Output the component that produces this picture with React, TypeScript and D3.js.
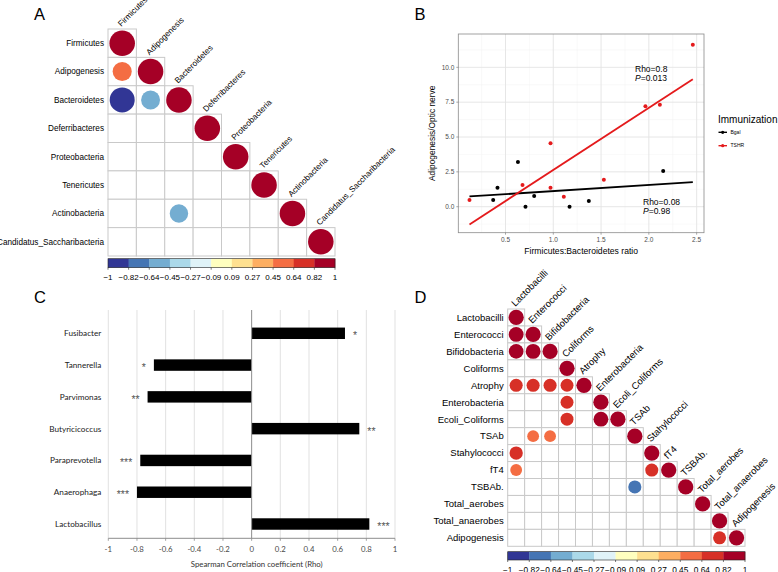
import React from "react";
import * as d3 from "d3";

const W = 778;
const H = 572;

// ---------- shared corrplot palette ----------
const corrColors = ["#313695", "#4575b4", "#74add1", "#abd9e9", "#e0f3f8", "#ffffbf", "#fee090", "#fdae61", "#f46d43", "#d73027", "#a50026"];
const colorbarLabels = ["−1", "−0.82", "−0.64", "−0.45", "−0.27", "−0.09", "0.09", "0.27", "0.45", "0.64", "0.82", "1"];

// ---------- Panel A ----------
const varsA = ["Firmicutes", "Adipogenesis", "Bacteroidetes", "Deferribacteres", "Proteobacteria", "Tenericutes", "Actinobacteria", "Candidatus_Saccharibacteria"];
const corrA: [string, string, number][] = [
  ["Adipogenesis", "Firmicutes", 0.56],
  ["Bacteroidetes", "Firmicutes", -0.96],
  ["Bacteroidetes", "Adipogenesis", -0.55],
  ["Actinobacteria", "Bacteroidetes", -0.52],
];

// ---------- Panel B ----------
const bgalX = [0.371, 0.416, 0.63, 0.709, 0.8, 1.17, 1.372, 2.15];
const bgalY = [0.48, 1.36, 3.21, 0.0, 0.77, 0.0, 0.41, 2.56];
const tshrX = [0.123, 0.678, 0.971, 0.971, 1.11, 1.529, 1.964, 2.115, 2.46];
const tshrY = [0.48, 1.56, 4.55, 1.36, 0.72, 1.94, 7.2, 7.32, 11.62];
const xTicksB = [0.5, 1.0, 1.5, 2.0, 2.5];
const yTicksB = [0, 2.5, 5, 7.5, 10];
const xMinorB = [0.25, 0.75, 1.25, 1.75, 2.25];
const yMinorB = [-1.25, 1.25, 3.75, 6.25, 8.75, 11.25];
const groupsB = ["Bgal", "TSHR"];
const groupColorsB = ["#000000", "#e41a1c"];

// ---------- Panel C ----------
const generaC = ["Fusibacter", "Tannerella", "Parvimonas", "Butyricicoccus", "Paraprevotella", "Anaerophaga", "Lactobacillus"];
const rhoC = [0.651, -0.682, -0.726, 0.751, -0.777, -0.8, 0.821];
const starsC = ["*", "*", "**", "**", "***", "***", "***"];
const xTicksC = [-1, -0.8, -0.6, -0.4, -0.2, 0, 0.2, 0.4, 0.6, 0.8, 1];

// ---------- Panel D ----------
const varsD = ["Lactobacilli", "Enterococci", "Bifidobacteria", "Coliforms", "Atrophy", "Enterobacteria", "Ecoli_Coliforms", "TSAb", "Stahylococci", "fT4", "TSBAb.", "Total_aerobes", "Total_anaerobes", "Adipogenesis"];
const corrD: [string, string, number][] = [
  ["Enterococci", "Lactobacilli", 0.95],
  ["Bifidobacteria", "Lactobacilli", 0.93],
  ["Bifidobacteria", "Enterococci", 0.95],
  ["Atrophy", "Lactobacilli", 0.74],
  ["Atrophy", "Enterococci", 0.74],
  ["Atrophy", "Bifidobacteria", 0.74],
  ["Atrophy", "Coliforms", 0.72],
  ["Enterobacteria", "Coliforms", 0.72],
  ["Ecoli_Coliforms", "Coliforms", 0.72],
  ["Ecoli_Coliforms", "Enterobacteria", 0.95],
  ["TSAb", "Enterococci", 0.6],
  ["TSAb", "Bifidobacteria", 0.6],
  ["Stahylococci", "Lactobacilli", 0.76],
  ["fT4", "Lactobacilli", 0.6],
  ["fT4", "Stahylococci", 0.73],
  ["TSBAb.", "TSAb", -0.74],
  ["Adipogenesis", "Total_anaerobes", 0.72],
];

const SANS = "'Liberation Sans', Arial, Helvetica, sans-serif";
const CALIB = "Lato, 'Open Sans', sans-serif";

type CorrProps = {
  vars: string[];
  corr: [string, string, number][];
  x0: number;
  y0: number;
  cell: number;
  fontSize: number;
  barY: number;
  barH: number;
  barLabelY: number;
  barFont: number;
};

function CorrPlot({ vars, corr, x0, y0, cell, fontSize, barY, barH, barLabelY, barFont }: CorrProps) {
  const n = vars.length;
  const xb = d3.scaleBand<string>().domain(vars).range([x0, x0 + cell * n]);
  const yb = d3.scaleBand<string>().domain(vars).range([y0, y0 + cell * n]);
  const color = d3.scaleQuantize<string>().domain([-1, 1]).range(corrColors);
  const lookup = new Map<string, number>();
  corr.forEach(([a, b, v]) => lookup.set(a + "|" + b, v));
  const cells: { r: string; c: string; i: number; j: number }[] = [];
  vars.forEach((r, i) => vars.forEach((c, j) => { if (j <= i) cells.push({ r, c, i, j }); }));
  const bx = d3.scaleLinear().domain([-1, 1]).range([x0, x0 + cell * n]);
  const bins = d3.range(11).map((k) => -1 + (k * 2) / 11);
  return (
    <g>
      {cells.map(({ r, c }) => (
        <rect key={"g" + r + c} x={xb(c)} y={yb(r)} width={cell} height={cell} fill="white" stroke="#c9c9c9" strokeWidth={1} />
      ))}
      {cells.map(({ r, c, i, j }) => {
        const v = i === j ? 1 : lookup.get(r + "|" + c);
        if (v === undefined) return null;
        const rad = (0.9 * Math.sqrt(Math.abs(v)) * cell) / 2;
        return <circle key={"c" + r + c} cx={(xb(c) as number) + cell / 2} cy={(yb(r) as number) + cell / 2} r={rad} fill={color(v)} />;
      })}
      {vars.map((v) => (
        <text key={"rl" + v} x={x0 - 4} y={(yb(v) as number) + cell / 2} dy="0.35em" textAnchor="end" fontSize={fontSize} fontFamily={SANS} fill="#000">{v}</text>
      ))}
      {vars.map((v) => (
        <text key={"cl" + v} transform={`translate(${(xb(v) as number) + cell / 2 - 1},${(yb(v) as number) - 2}) rotate(-45)`} textAnchor="start" fontSize={fontSize} fontFamily={SANS} fill="#000">{v}</text>
      ))}
      {bins.map((b, k) => (
        <rect key={"b" + k} x={bx(b)} y={barY} width={bx(b + 2 / 11) - bx(b) + 0.3} height={barH} fill={corrColors[k]} />
      ))}
      <rect x={x0} y={barY} width={cell * n} height={barH} fill="none" stroke="#222" strokeWidth={0.6} />
      {colorbarLabels.map((l, k) => {
        const xv = bx(-1 + (k * 2) / 11);
        return (
          <g key={"bl" + k}>
            <line x1={xv} x2={xv} y1={barY + barH} y2={barY + barH + 2} stroke="#222" strokeWidth={0.6} />
            <text x={xv} y={barLabelY} textAnchor="middle" fontSize={barFont} fontFamily={SANS} fill="#000">{l}</text>
          </g>
        );
      })}
    </g>
  );
}

function linReg(xs: number[], ys: number[]) {
  const mx = d3.mean(xs) as number;
  const my = d3.mean(ys) as number;
  const sxy = d3.sum(xs.map((x, i) => (x - mx) * (ys[i] - my)));
  const sxx = d3.sum(xs.map((x) => (x - mx) * (x - mx)));
  const b = sxy / sxx;
  return { a: my - b * mx, b };
}

function PanelB() {
  const L = 458.3, R = 704, T = 34, B = 232.7;
  const x = d3.scaleLinear().domain([0.006, 2.577]).range([L, R]);
  const y = d3.scaleLinear().domain([-1.865, 12.39]).range([B, T]);
  const allX = [...bgalX, ...tshrX];
  const xmin = d3.min(allX) as number;
  const xmax = d3.max(allX) as number;
  const series = [
    { name: groupsB[0], xs: bgalX, ys: bgalY, col: groupColorsB[0] },
    { name: groupsB[1], xs: tshrX, ys: tshrY, col: groupColorsB[1] },
  ];
  const line = d3.line<[number, number]>().x((d) => x(d[0])).y((d) => y(d[1]));
  return (
    <g>
      <rect x={L} y={T} width={R - L} height={B - T} fill="white" />
      {xMinorB.map((v) => <line key={"xm" + v} x1={x(v)} x2={x(v)} y1={T} y2={B} stroke="#f2f2f2" strokeWidth={0.5} />)}
      {yMinorB.map((v) => <line key={"ym" + v} x1={L} x2={R} y1={y(v)} y2={y(v)} stroke="#f2f2f2" strokeWidth={0.5} />)}
      {xTicksB.map((v) => <line key={"xg" + v} x1={x(v)} x2={x(v)} y1={T} y2={B} stroke="#e3e3e3" strokeWidth={0.9} />)}
      {yTicksB.map((v) => <line key={"yg" + v} x1={L} x2={R} y1={y(v)} y2={y(v)} stroke="#e3e3e3" strokeWidth={0.9} />)}
      {series.map((s) => {
        const { a, b } = linReg(s.xs, s.ys);
        return <path key={"l" + s.name} d={line([[xmin, a + b * xmin], [xmax, a + b * xmax]]) as string} stroke={s.col} strokeWidth={1.8} fill="none" />;
      })}
      {series.map((s) => s.xs.map((xv, i) => (
        <circle key={"p" + s.name + i} cx={x(xv)} cy={y(s.ys[i])} r={2} fill={s.col} />
      )))}
      <rect x={L} y={T} width={R - L} height={B - T} fill="none" stroke="#8a8a8a" strokeWidth={0.8} />
      {xTicksB.map((v) => (
        <g key={"xt" + v}>
          <line x1={x(v)} x2={x(v)} y1={B} y2={B + 2} stroke="#555" strokeWidth={0.5} />
          <text x={x(v)} y={B + 9.5} textAnchor="middle" fontSize={6.5} fontFamily={SANS} fill="#4d4d4d">{v.toFixed(1)}</text>
        </g>
      ))}
      {yTicksB.map((v) => (
        <g key={"yt" + v}>
          <line x1={L - 2} x2={L} y1={y(v)} y2={y(v)} stroke="#555" strokeWidth={0.5} />
          <text x={L - 4} y={y(v)} dy="0.35em" textAnchor="end" fontSize={6.5} fontFamily={SANS} fill="#4d4d4d">{v.toFixed(1)}</text>
        </g>
      ))}
      <text x={(L + R) / 2} y={253.5} textAnchor="middle" fontSize={8.6} fontFamily={SANS} fill="#000">Firmicutes:Bacteroidetes ratio</text>
      <text transform={`translate(434.5,${(T + B) / 2}) rotate(-90)`} textAnchor="middle" fontSize={8.4} fontFamily={SANS} fill="#000">Adipogenesis/Optic nerve</text>
      <text x={635} y={71.5} fontSize={8.5} fontFamily={SANS} fill="#000">Rho=0.8</text>
      <text x={635} y={80.5} fontSize={8.5} fontFamily={SANS} fill="#000"><tspan fontStyle="italic">P</tspan>=0.013</text>
      <text x={643} y={204.5} fontSize={8.5} fontFamily={SANS} fill="#000">Rho=0.08</text>
      <text x={643} y={213.5} fontSize={8.5} fontFamily={SANS} fill="#000"><tspan fontStyle="italic">P</tspan>=0.98</text>
      <text x={718} y={122.5} fontSize={10} fontFamily={SANS} fill="#000">Immunization</text>
      {series.map((s, i) => {
        const ly = 132.3 + i * 13.4;
        return (
          <g key={"lg" + s.name}>
            <line x1={718.5} x2={727} y1={ly} y2={ly} stroke={s.col} strokeWidth={1.4} />
            <circle cx={722.7} cy={ly} r={1.6} fill={s.col} />
            <text x={730.5} y={ly} dy="0.35em" fontSize={5} fontFamily={SANS} fill="#000">{s.name}</text>
          </g>
        );
      })}
    </g>
  );
}

function PanelC() {
  const x = d3.scaleLinear().domain([-1, 1]).range([108.3, 395]);
  const yb = d3.scaleBand<string>().domain(generaC).range([317.4, 539.9]);
  const top = 310, bottom = 538.3;
  const bh = yb.bandwidth() * 0.36;
  return (
    <g>
      {xTicksC.filter((v) => v !== 0).map((v) => (
        <line key={"cg" + v} x1={x(v)} x2={x(v)} y1={top} y2={bottom} stroke="#d9d9d9" strokeWidth={0.8} />
      ))}
      {generaC.map((g, i) => {
        const v = rhoC[i];
        const cy = (yb(g) as number) + yb.bandwidth() / 2;
        return (
          <g key={"cb" + g}>
            <rect x={Math.min(x(0), x(v))} y={cy - bh / 2} width={Math.abs(x(v) - x(0))} height={bh} fill="#000" />
            <text x={108.3 - 7} y={cy} dy="0.35em" textAnchor="end" fontSize={8.2} fontFamily={CALIB} fill="#222">{g}</text>
            <text x={v > 0 ? x(v) + 8 : x(v) - 8} y={cy + 6} textAnchor={v > 0 ? "start" : "end"} fontSize={10.5} fontFamily={SANS} fill="#555">{starsC[i]}</text>
          </g>
        );
      })}
      <line x1={x(0)} x2={x(0)} y1={top} y2={bottom} stroke="#8c8c8c" strokeWidth={1} />
      <line x1={108.3} x2={x(1)} y1={bottom} y2={bottom} stroke="#8c8c8c" strokeWidth={1} />
      {xTicksC.map((v) => (
        <g key={"ct" + v}>
          <line x1={x(v)} x2={x(v)} y1={bottom} y2={bottom + 2.5} stroke="#8c8c8c" strokeWidth={0.8} />
          <text x={x(v)} y={551.5} textAnchor="middle" fontSize={7.8} fontFamily={CALIB} fill="#4a4a4a">{String(Math.round(v * 10) / 10)}</text>
        </g>
      ))}
      <text x={256.7} y={567} textAnchor="middle" fontSize={7.8} fontFamily={CALIB} fill="#333">Spearman Correlation coefficient (Rho)</text>
    </g>
  );
}

export default function App() {
  return (
    <svg width={W} height={H} viewBox={`0 0 ${W} ${H}`} style={{ position: "absolute", left: 0, top: 0, background: "white" }}>
      <rect x={0} y={0} width={W} height={H} fill="white" />
      <PanelC />
      <PanelB />
      <CorrPlot vars={varsA} corr={corrA} x0={108} y0={29} cell={28.375} fontSize={8.2} barY={258.7} barH={9} barLabelY={280} barFont={8} />
      <CorrPlot vars={varsD} corr={corrD} x0={507.7} y0={309} cell={16.95} fontSize={9.5} barY={551.7} barH={8.3} barLabelY={572.5} barFont={8.3} />
      <text x={34} y={19.5} fontSize={16.5} fontFamily={SANS} fill="#000">A</text>
      <text x={414.5} y={19.5} fontSize={16.5} fontFamily={SANS} fill="#000">B</text>
      <text x={34} y={302.5} fontSize={16.5} fontFamily={SANS} fill="#000">C</text>
      <text x={414.5} y={302.5} fontSize={16.5} fontFamily={SANS} fill="#000">D</text>
    </svg>
  );
}
